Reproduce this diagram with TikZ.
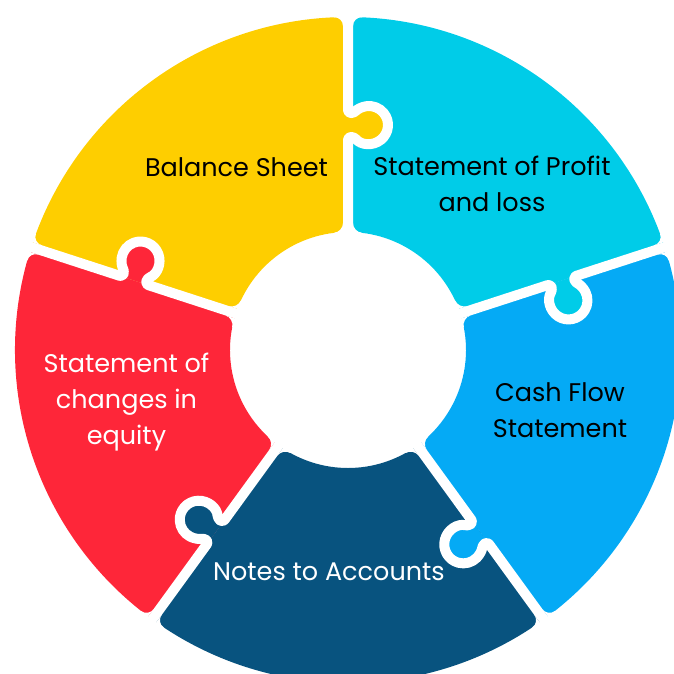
\documentclass[tikz,border=0pt]{standalone}
\usepackage{fontspec}
\setmainfont{Poppins}
\definecolor{yel}{HTML}{FECE00}
\definecolor{cyn}{HTML}{00CCE8}
\definecolor{blu}{HTML}{05AAF5}
\definecolor{nav}{HTML}{08537F}
\definecolor{red}{HTML}{FE2639}
\tikzset{
  lbl/.style={font=\fontsize{25.5}{36}\selectfont, align=center, inner sep=0pt},
  gap/.style={white, line width=10pt, line join=round, rounded corners=3pt}
}
\begin{document}
\begin{tikzpicture}[x=1pt,y=1pt]
\useasboundingbox (-348,-323) rectangle (326,350);
\clip (-348,-323) rectangle (326,350);
\def\Ro{333}\def\Ri{118}\def\Rm{225}\def\tc{21}\def\kr{19}\def\na{12}\def\fr{9}
\pgfmathsetmacro{\tn}{\tc-sqrt(\kr*\kr-\na*\na)}
\pgfmathsetmacro{\ka}{180-atan(\na/sqrt(\kr*\kr-\na*\na))}
% sectors
\foreach \a/\c in {90/yel,162/red,234/nav,306/blu,18/cyn}{
  \fill[\c] (\a:\Ri) -- (\a:\Ro) arc[start angle=\a, end angle=\a+72, radius=\Ro]
    -- (\a+72:\Ri) arc[start angle=\a+72, end angle=\a, radius=\Ri] -- cycle;
}
% tabs
\foreach \a/\c in {90/yel,162/red,234/nav,306/blu,18/cyn}{
  \begin{scope}[rotate=\a-90]
    \fill[\c] (0,\Rm-\na) -- (\tn,\Rm-\na) arc[start angle=-\ka, end angle=\ka, radius=\kr]
      -- (0,\Rm+\na) -- cycle;
  \end{scope}
}
% gaps and rounded corners
\foreach \a in {90,162,234,306,18}{
  \begin{scope}[rotate=\a-90]
    \draw[gap] (0,\Ri-20) -- (0,\Rm-\na) -- (\tn,\Rm-\na)
      arc[start angle=-\ka, end angle=\ka, radius=\kr] -- (0,\Rm+\na) -- (0,\Ro+20);
    \foreach \sg in {1,-1}{
      \fill[white] (\sg*5,\Ro-\fr) .. controls (\sg*5,\Ro-0.448*\fr) and (\sg*5+\sg*0.448*\fr,\Ro) ..
        (\sg*5+\sg*\fr,\Ro-0.3) -- (\sg*5+\sg*\fr,\Ro+6) -- (\sg*5,\Ro+6) -- cycle;
      \fill[white] (\sg*5,\Ri+\fr) .. controls (\sg*5,\Ri+0.448*\fr) and (\sg*5+\sg*0.448*\fr,\Ri-0.4) ..
        (\sg*5+\sg*\fr,\Ri-0.8) -- (\sg*5+\sg*\fr,\Ri-6) -- (\sg*5,\Ri-6) -- cycle;
    }
  \end{scope}
}
% labels
\node[lbl, text=black] (bs) at (-111.5,183) {Balance Sheet};
\node[lbl, text=black] (pl) at (144,166) {Statement of Profit\\and loss};
\node[lbl, text=black] (cf) at (212,-60) {Cash Flow\\Statement};
\node[lbl, text=white] (na) at (-19,-222) {Notes to Accounts};
\node[lbl, text=white] (ce) at (-221.5,-52) {Statement of\\changes in\\equity};
\end{tikzpicture}
\end{document}
